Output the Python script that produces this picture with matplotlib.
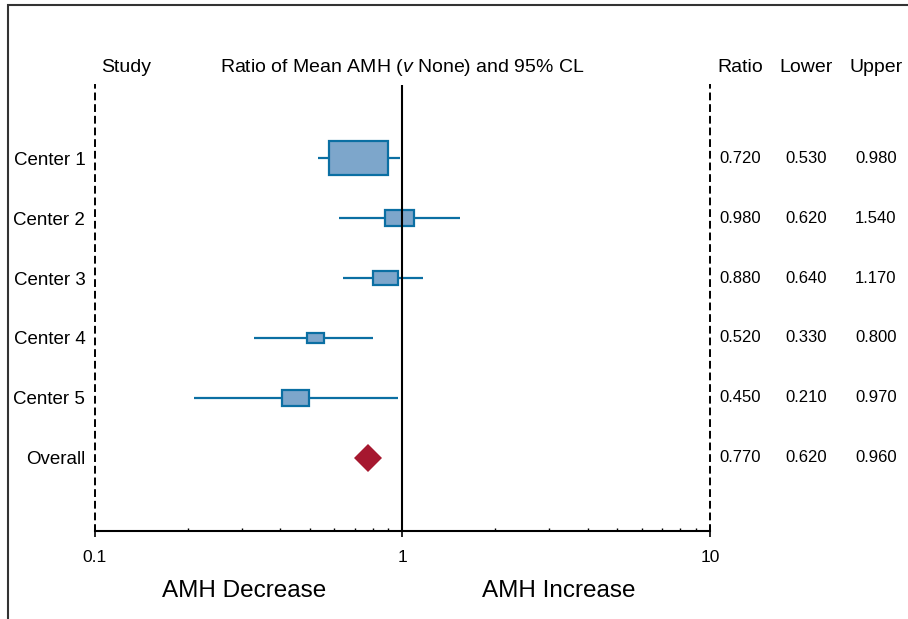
import matplotlib.pyplot as plt
import matplotlib.transforms as mtransforms
from matplotlib.patches import Rectangle
from matplotlib import ticker
import numpy as np

plt.rcParams['font.family'] = ['Liberation Sans', 'DejaVu Sans']
plt.rcParams['mathtext.fontset'] = 'custom'
plt.rcParams['mathtext.it'] = 'Liberation Sans:italic'
plt.rcParams['mathtext.rm'] = 'Liberation Sans'

# ----- DATA -----
studies = ["Center 1", "Center 2", "Center 3", "Center 4", "Center 5", "Overall"]
ratio = [0.72, 0.98, 0.88, 0.52, 0.45]
lower = [0.53, 0.62, 0.64, 0.33, 0.21]
upper = [0.98, 1.54, 1.17, 0.80, 0.97]
weights = [58.4, 13.9, 10.9, 4.7, 12.1]   # relative study weight (%), sets box size
overall = [0.77, 0.62, 0.96]
xticks = [0.1, 1, 10]
xtick_labels = ["0.1", "1", "10"]

BOX_COLOR = '#7da6cb'
EDGE_COLOR = '#0b6fa3'
DIAMOND_COLOR = '#a6182f'
PX_PER_DECADE = 307.5
PX_PER_ROW = 60.0

fig = plt.figure(figsize=(9.08, 6.19), dpi=100)
ax = fig.add_axes([0.1046, 0.1422, 0.6773, 0.7205])

rows = np.arange(1, len(studies) + 1)

# confidence interval lines and weighted boxes
for i in range(len(ratio)):
    y = rows[i]
    ax.plot([lower[i], upper[i]], [y, y], color=EDGE_COLOR, lw=1.6,
            solid_capstyle='butt', zorder=2)
    w_px = 7.72 * np.sqrt(weights[i])
    half_dec = w_px / 2.0 / PX_PER_DECADE
    h = w_px / 1.72 / PX_PER_ROW
    x0 = 10 ** (np.log10(ratio[i]) - half_dec)
    x1 = 10 ** (np.log10(ratio[i]) + half_dec)
    ax.add_patch(Rectangle((x0, y - h / 2), x1 - x0, h, facecolor=BOX_COLOR,
                           edgecolor=EDGE_COLOR, lw=1.6, zorder=3))

# overall estimate
ax.plot([overall[0]], [rows[-1]], marker='D', markersize=14.5,
        color=DIAMOND_COLOR, markeredgewidth=0, zorder=4)

ax.axvline(1, color='black', lw=1.5, zorder=5)

ax.set_xscale('log')
ax.set_xlim(0.1, 10)
ax.set_ylim(7.22, -0.22)

ax.set_xticks(xticks)
ax.set_xticklabels(xtick_labels)
ax.xaxis.set_minor_locator(ticker.LogLocator(base=10, subs=np.arange(2, 10)))
ax.xaxis.set_minor_formatter(ticker.NullFormatter())
ax.tick_params(axis='x', which='major', direction='inout', length=8, width=1.2,
               labelsize=12.5, pad=10)
ax.tick_params(axis='x', which='minor', direction='in', length=2.5, width=1)

ax.set_yticks(rows)
ax.set_yticklabels(studies)
ax.tick_params(axis='y', length=0, labelsize=13.5, pad=7)

ax.spines['top'].set_visible(False)
ax.spines['bottom'].set_linewidth(1.5)
for side in ['left', 'right']:
    ax.spines[side].set_linestyle((0, (3, 3)))
    ax.spines[side].set_linewidth(1.4)

# table of values on the right
trans = mtransforms.blended_transform_factory(ax.transAxes, ax.transData)
cols_x = [1.0488, 1.1561, 1.2699]
all_r = ratio + [overall[0]]
all_l = lower + [overall[1]]
all_u = upper + [overall[2]]
for i, y in enumerate(rows):
    for cx, v in zip(cols_x, [all_r[i], all_l[i], all_u[i]]):
        ax.text(cx, y, "%.3f" % v, transform=trans, ha='center', va='center',
                fontsize=12, clip_on=False)

# headers
hy = 0.8905
htrans = mtransforms.blended_transform_factory(ax.transAxes, fig.transFigure)
fig.text(0.1112, hy, "Study", ha='left', va='center', fontsize=14)
fig.text(0.4433, hy, r"Ratio of Mean AMH ($\mathit{v}$ None) and 95% CL",
         ha='center', va='center', fontsize=14)
for cx, name in zip(cols_x, ["Ratio", "Lower", "Upper"]):
    ax.text(cx, hy, name, transform=htrans, fontsize=14, ha='center', va='center')

fig.text(0.2693, 0.0445, "AMH Decrease", ha='center', va='center', fontsize=17.5)
fig.text(0.6151, 0.0445, "AMH Increase", ha='center', va='center', fontsize=17.5)

# frame around the figure (cropped at the right and bottom)
fig.add_artist(Rectangle((0.0088, -0.1), 1.5, 1.0919, transform=fig.transFigure,
                         fill=False, edgecolor='#333333', lw=1.5))

plt.savefig("out.png", dpi=100)
